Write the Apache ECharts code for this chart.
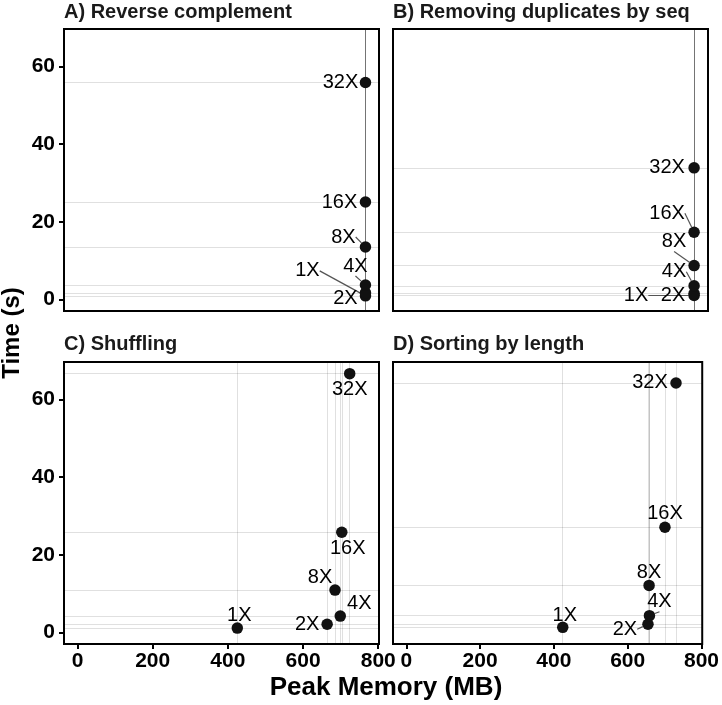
<!DOCTYPE html>
<html><head><meta charset="utf-8">
<script src="https://cdn.jsdelivr.net/npm/echarts@6/dist/echarts.min.js"></script>
<style>html,body{margin:0;padding:0;background:#fff}#c{width:722px;height:705px}</style>
</head><body><div id="c"></div>
<script>
// ---- data ----
const pointLabels = ['1X', '2X', '4X', '8X', '16X', '32X'];
const panelTitles = ['A) Reverse complement', 'B) Removing duplicates by seq', 'C) Shuffling', 'D) Sorting by length'];
const memA = [766, 766, 766, 766, 766, 766];
const timeA = [0.9, 1.7, 3.7, 13.5, 25.1, 55.9];
const memB = [765, 765, 765, 765, 765, 765];
const timeB = [1.0, 1.5, 3.5, 8.7, 17.3, 33.9];
const memC = [425, 664, 699, 685, 703, 724];
const timeC = [1.1, 2.1, 4.2, 10.9, 25.8, 66.7];
const memD = [424, 655, 659, 658, 701, 731];
const timeD = [1.3, 2.1, 4.3, 12.1, 27.1, 64.3];
const xTicks = [0, 200, 400, 600, 800];
const yTicks = [0, 20, 40, 60];
const xTitle = 'Peak Memory (MB)';
const yTitle = 'Time (s)';

// ---- layout / style (not data) ----
const FONT = '"Liberation Sans", Arial, Helvetica, sans-serif';
const grids = [
  {left: 64, top: 29, width: 315, height: 282},
  {left: 393, top: 29, width: 315, height: 282},
  {left: 64, top: 362, width: 315, height: 282},
  {left: 393, top: 362, width: 315, height: 282}
];
// label offsets from point centre: [dx, dy, drawSegment]
const labelOffsets = [
  [[-58, -25, true], [-20, 6, false], [-10, -19, true], [-22, -10, true], [-26, 0, false], [-25, 0, false]],
  [[-58, 0, true], [-21, 2, false], [-20, -14, true], [-20, -24, true], [-27, -19, true], [-27, 0, false]],
  [[2, -13, false], [-20, 0, false], [19, -13, false], [-15, -13, false], [6, 16, false], [0, 16, false]],
  [[2, -12, false], [-23, 5, true], [10, -14, true], [0, -13, false], [0, -14, false], [-26, 0, false]]
];
const mems = [memA, memB, memC, memD];
const times = [timeA, timeB, timeC, timeD];

const xAxes = [], yAxes = [], series = [], titles = [];
for (let i = 0; i < 4; i++) {
  const showX = i >= 2, showY = i % 2 === 0;
  xAxes.push({
    type: 'value', gridIndex: i, min: -36, max: 802, position: 'bottom',
    axisLine: {show: false, onZero: false},
    axisTick: {show: showX, customValues: xTicks, length: 5, lineStyle: {color: '#000', width: 2}},
    axisLabel: {show: showX, customValues: xTicks, margin: 7, color: '#000', fontSize: 21, fontWeight: 'bold', fontFamily: FONT},
    splitLine: {show: false}
  });
  yAxes.push({
    type: 'value', gridIndex: i, min: -3.0, max: 69.7, position: 'left',
    axisLine: {show: false, onZero: false},
    axisTick: {show: showY, customValues: yTicks, length: 5, lineStyle: {color: '#000', width: 2}},
    axisLabel: {show: showY, customValues: yTicks, margin: 9, color: '#000', fontSize: 21, fontWeight: 'bold', fontFamily: FONT},
    splitLine: {show: false}
  });
  const pts = mems[i].map((m, k) => ({
    value: [m, times[i][k]],
    name: pointLabels[k],
    labelLine: {show: labelOffsets[i][k][2]}
  }));
  const gl = mems[i].map(v => ({xAxis: v})).concat(times[i].map(v => ({yAxis: v})));
  series.push({
    type: 'scatter', xAxisIndex: i, yAxisIndex: i,
    data: pts, symbolSize: 11.5, itemStyle: {color: '#111', opacity: 1},
    z: 3,
    label: {show: true, position: 'inside', formatter: p => p.name, color: '#000', fontSize: 20, fontFamily: FONT},
    labelLine: {show: false, lineStyle: {color: '#555', width: 1.2}},
    labelLayout: (function (idx) {
      return function (params) {
        const o = labelOffsets[idx][params.dataIndex];
        return {dx: o[0], dy: o[1]};
      };
    })(i),
    emphasis: {disabled: true},
    markLine: {
      silent: true, symbol: ['none', 'none'], label: {show: false},
      lineStyle: {color: 'rgba(0,0,0,0.12)', width: 1, type: 'solid'},
      emphasis: {disabled: true},
      data: gl, z: 1
    }
  });
  titles.push({
    text: panelTitles[i], left: grids[i].left, top: i < 2 ? 2 : 334, padding: 0,
    textStyle: {fontSize: 20, fontWeight: 'bold', color: '#1a1a1a', fontFamily: FONT}
  });
}

const chart = echarts.init(document.getElementById('c'), null, {renderer: 'canvas'});
chart.setOption({
  animation: false,
  backgroundColor: '#fff',
  title: titles,
  grid: grids.map(g => Object.assign({show: true, borderColor: '#000', borderWidth: 2, backgroundColor: 'transparent'}, g)),
  xAxis: xAxes,
  yAxis: yAxes,
  series: series,
  graphic: [
    {type: 'text', x: 386, y: 688, style: {text: xTitle, fill: '#000', font: 'bold 26px ' + FONT, align: 'center', verticalAlign: 'middle'}},
    {type: 'text', x: 12, y: 333, rotation: Math.PI / 2, style: {text: yTitle, fill: '#000', font: 'bold 24px ' + FONT, align: 'center', verticalAlign: 'middle'}}
  ]
});
</script></body></html>
